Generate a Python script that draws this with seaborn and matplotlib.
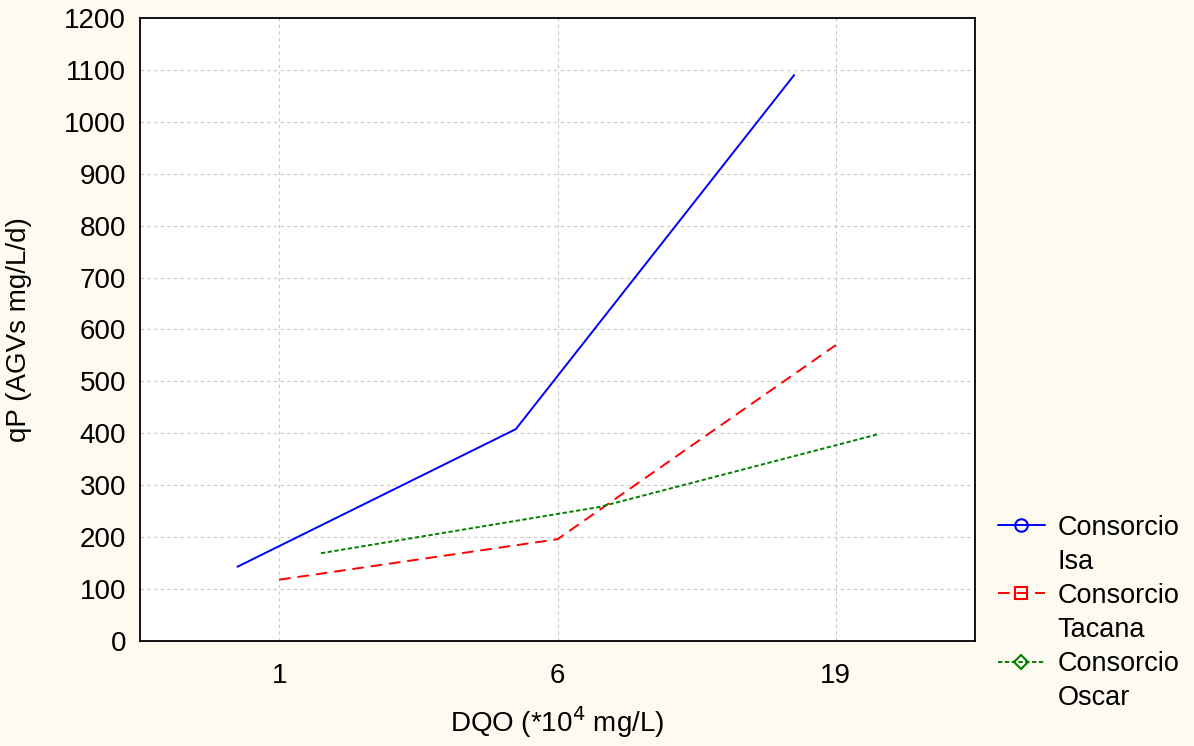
import matplotlib
matplotlib.use("Agg")
import matplotlib.pyplot as plt
from matplotlib.lines import Line2D
import seaborn as sns
import pandas as pd

categories = ["1", "6", "19"]
isa = [143, 408, 1090]
tacana = [118, 196, 570]
oscar = [169, 258, 398]
series_names = ["Consorcio Isa", "Consorcio Tacana", "Consorcio Oscar"]
yticks = list(range(0, 1201, 100))

rows = []
for name, vals in zip(series_names, [isa, tacana, oscar]):
    for c, v in zip(categories, vals):
        rows.append({"DQO": c, "qP": v, "serie": name})
df = pd.DataFrame(rows)

sns.set_theme(style="white")
plt.rcParams["font.family"] = ["Liberation Sans", "DejaVu Sans"]

bg = "#FDFAF0"
colors = ["#0000FF", "#FF0000", "#008000"]
styles = ["-", (0, (6, 3.5)), (0, (2.2, 1.3))]
FS = 20

fig = plt.figure(figsize=(11.94, 7.46), dpi=100, facecolor=bg)
ax = fig.add_axes([0.1173, 0.1408, 0.8166 - 0.1173, 0.9759 - 0.1408])
ax.set_facecolor("white")

sns.pointplot(data=df, x="DQO", y="qP", hue="serie", order=categories,
              hue_order=series_names, palette=colors, markers=["", "", ""],
              linestyles=styles, dodge=0.3, errorbar=None, ax=ax,
              linewidth=1.4, legend=False)

ax.set_xlim(-0.5, 2.5)
ax.set_ylim(0, 1200)
ax.set_yticks(yticks)
ax.set_yticklabels([str(t) for t in yticks])
ax.grid(True, color="#C8C8C8", linestyle=(0, (3, 3)), linewidth=0.8)
ax.set_axisbelow(True)
for s in ax.spines.values():
    s.set_color("black")
    s.set_linewidth(1.3)
ax.tick_params(axis="both", direction="in", length=5, width=1.3, colors="black",
               labelsize=FS, labelcolor="black")
ax.tick_params(axis="y", pad=10)
ax.tick_params(axis="x", pad=16)
ax.set_xlabel("DQO (*10$^4$ mg/L)", fontsize=FS, labelpad=11, color="black")
ax.set_ylabel("qP (AGVs mg/L/d)", fontsize=FS, labelpad=23, color="black")

markers_leg = ["o", "s", "D"]
handles = []
labels = []
for c, ls, m, name in zip(colors, styles, markers_leg, series_names):
    handles.append(Line2D([], [], color=c, linestyle=ls, linewidth=1.4, marker=m,
                          markersize=9 if m != "D" else 7.5, markerfacecolor="none",
                          markeredgecolor=c, markeredgewidth=1.5))
    first, second = name.split(" ", 1)
    labels.append(first)
    handles.append(Line2D([], [], linestyle="none", marker=None))
    labels.append(second)

leg = fig.legend(handles, labels, loc="upper left",
                 bbox_to_anchor=(0.8266, 0.3247), frameon=False, fontsize=19.5,
                 handlelength=1.75, handletextpad=0.45, labelspacing=0.3,
                 borderaxespad=0, labelcolor="black")

fig.savefig("out.png", dpi=100, facecolor=bg)
